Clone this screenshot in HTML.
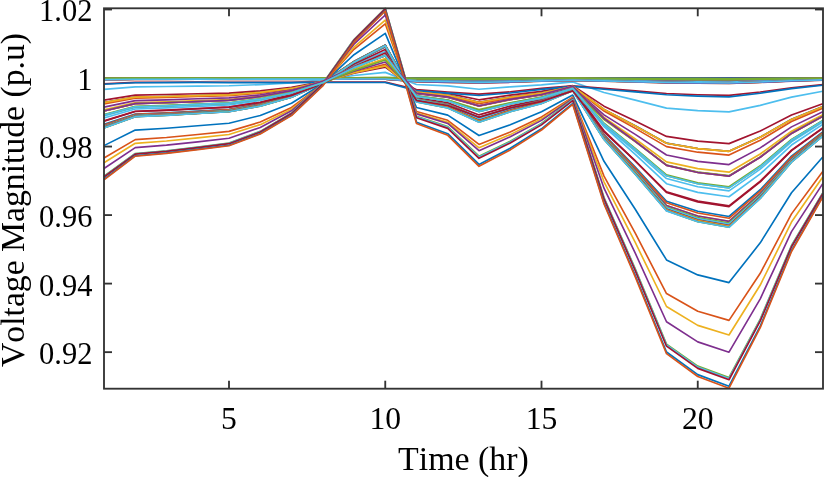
<!DOCTYPE html>
<html><head><meta charset="utf-8"><title>Voltage Magnitude</title>
<style>
html,body{margin:0;padding:0;background:#fff;}
body{width:824px;height:477px;overflow:hidden;}
svg{display:block;will-change:transform;}
text{font-kerning:none;font-family:"Liberation Serif",serif;font-size:31.6px;fill:#000;}
</style></head><body>
<svg width="824" height="477" viewBox="0 0 824 477">
<rect x="0" y="0" width="824" height="477" fill="#ffffff"/>
<g stroke="#333333" stroke-width="1.85" fill="none" stroke-linecap="butt">
<line x1="104.00" y1="9.50" x2="112.00" y2="9.50"/>
<line x1="823.00" y1="9.50" x2="815.00" y2="9.50"/>
<line x1="104.00" y1="78.00" x2="112.00" y2="78.00"/>
<line x1="823.00" y1="78.00" x2="815.00" y2="78.00"/>
<line x1="104.00" y1="146.55" x2="112.00" y2="146.55"/>
<line x1="823.00" y1="146.55" x2="815.00" y2="146.55"/>
<line x1="104.00" y1="215.10" x2="112.00" y2="215.10"/>
<line x1="823.00" y1="215.10" x2="815.00" y2="215.10"/>
<line x1="104.00" y1="283.60" x2="112.00" y2="283.60"/>
<line x1="823.00" y1="283.60" x2="815.00" y2="283.60"/>
<line x1="104.00" y1="352.15" x2="112.00" y2="352.15"/>
<line x1="823.00" y1="352.15" x2="815.00" y2="352.15"/>
<line x1="229.00" y1="388.70" x2="229.00" y2="380.70"/>
<line x1="229.00" y1="8.30" x2="229.00" y2="16.30"/>
<line x1="385.25" y1="388.70" x2="385.25" y2="380.70"/>
<line x1="385.25" y1="8.30" x2="385.25" y2="16.30"/>
<line x1="541.50" y1="388.70" x2="541.50" y2="380.70"/>
<line x1="541.50" y1="8.30" x2="541.50" y2="16.30"/>
<line x1="697.75" y1="388.70" x2="697.75" y2="380.70"/>
<line x1="697.75" y1="8.30" x2="697.75" y2="16.30"/>
</g>
<g fill="none" stroke-width="1.65" stroke-linejoin="round" stroke-linecap="butt">
<polyline points="104.00,78.00 135.25,78.00 166.50,78.00 197.75,78.00 229.00,78.00 260.25,78.00 291.50,78.00 322.75,78.00 354.00,78.00 385.25,78.00 416.50,78.00 447.75,78.00 479.00,78.00 510.25,78.00 541.50,78.00 572.75,78.00 604.00,78.00 635.25,78.00 666.50,78.00 697.75,78.00 729.00,78.00 760.25,78.00 791.50,78.00 822.75,78.00" stroke="#0072BD"/>
<polyline points="104.00,78.03 135.25,78.03 166.50,78.02 197.75,78.02 229.00,78.02 260.25,78.02 291.50,78.01 322.75,78.00 354.00,77.99 385.25,77.98 416.50,78.02 447.75,78.02 479.00,78.03 510.25,78.03 541.50,78.02 572.75,78.01 604.00,78.04 635.25,78.07 666.50,78.09 697.75,78.10 729.00,78.10 760.25,78.08 791.50,78.06 822.75,78.04" stroke="#D95319"/>
<polyline points="104.00,78.08 135.25,78.06 166.50,78.06 197.75,78.06 229.00,78.05 260.25,78.04 291.50,78.03 322.75,78.01 354.00,77.98 385.25,77.96 416.50,78.05 447.75,78.06 479.00,78.08 510.25,78.06 541.50,78.05 572.75,78.03 604.00,78.10 635.25,78.16 666.50,78.21 697.75,78.23 729.00,78.24 760.25,78.19 791.50,78.13 822.75,78.09" stroke="#EDB120"/>
<polyline points="104.00,78.18 135.25,78.14 166.50,78.13 197.75,78.13 229.00,78.12 260.25,78.10 291.50,78.07 322.75,78.02 354.00,77.95 385.25,77.91 416.50,78.10 447.75,78.13 479.00,78.18 510.25,78.14 541.50,78.11 572.75,78.06 604.00,78.23 635.25,78.35 666.50,78.49 697.75,78.53 729.00,78.55 760.25,78.44 791.50,78.31 822.75,78.21" stroke="#7E2F8E"/>
<polyline points="104.00,79.10 135.25,78.84 166.50,78.81 197.75,78.77 229.00,78.74 260.25,78.62 291.50,78.44 322.75,78.15 354.00,77.71 385.25,77.44 416.50,78.64 447.75,78.78 479.00,79.11 510.25,78.87 541.50,78.68 572.75,78.39 604.00,79.41 635.25,80.17 666.50,80.98 697.75,81.22 729.00,81.35 760.25,80.69 791.50,79.87 822.75,79.28" stroke="#77AC30"/>
<polyline points="104.00,89.39 135.25,86.84 166.50,86.54 197.75,86.13 229.00,85.79 260.25,84.63 291.50,82.81 322.75,79.88 354.00,75.51 385.25,72.36 416.50,84.45 447.75,85.92 479.00,89.25 510.25,86.83 541.50,84.91 572.75,81.91 604.00,92.53 635.25,100.12 666.50,108.13 697.75,110.59 729.00,111.85 760.25,105.33 791.50,97.12 822.75,91.24" stroke="#4DBEEE"/>
<polyline points="104.00,100.07 135.25,95.14 166.50,94.55 197.75,93.76 229.00,93.10 260.25,90.85 291.50,87.32 322.75,81.65 354.00,73.17 385.25,67.07 416.50,90.50 447.75,93.36 479.00,99.81 510.25,95.11 541.50,91.39 572.75,85.58 604.00,106.17 635.25,120.88 666.50,136.41 697.75,141.18 729.00,143.62 760.25,130.98 791.50,115.05 822.75,103.67" stroke="#A2142F"/>
<polyline points="104.00,102.62 135.25,97.12 166.50,96.47 197.75,95.58 229.00,94.84 260.25,92.33 291.50,88.40 322.75,82.08 354.00,72.61 385.25,65.81 416.50,91.95 447.75,95.13 479.00,102.33 510.25,97.09 541.50,92.93 572.75,86.46 604.00,109.43 635.25,125.83 666.50,143.16 697.75,148.48 729.00,151.20 760.25,137.10 791.50,119.34 822.75,106.63" stroke="#0072BD"/>
<polyline points="104.00,103.92 135.25,98.13 166.50,97.44 197.75,96.51 229.00,95.73 260.25,93.09 291.50,88.95 322.75,82.29 354.00,72.33 385.25,64.31 416.50,92.68 447.75,96.04 479.00,103.61 510.25,98.10 541.50,93.72 572.75,86.90 604.00,111.09 635.25,128.35 666.50,146.60 697.75,152.19 729.00,155.06 760.25,140.22 791.50,121.52 822.75,108.14" stroke="#D95319"/>
<polyline points="104.00,109.68 135.25,102.60 166.50,101.76 197.75,100.62 229.00,99.52 260.25,96.08 291.50,90.68 322.75,82.00 354.00,69.03 385.25,58.63 416.50,93.50 447.75,97.23 479.00,106.27 510.25,99.77 541.50,94.86 572.75,86.79 604.00,117.34 635.25,138.97 666.50,161.83 697.75,168.67 729.00,172.18 760.25,154.03 791.50,131.18 822.75,114.84" stroke="#EDB120"/>
<polyline points="104.00,110.95 135.25,103.59 166.50,102.72 197.75,101.53 229.00,100.26 260.25,96.50 291.50,90.60 322.75,81.12 354.00,66.95 385.25,55.63 416.50,92.87 447.75,96.54 479.00,105.84 510.25,99.22 541.50,94.42 572.75,86.17 604.00,118.41 635.25,141.17 666.50,165.21 697.75,172.32 729.00,175.97 760.25,157.09 791.50,133.32 822.75,116.32" stroke="#7E2F8E"/>
<polyline points="104.00,114.58 135.25,106.41 166.50,105.44 197.75,104.12 229.00,102.83 260.25,98.82 291.50,92.54 322.75,82.43 354.00,67.33 385.25,55.23 416.50,95.75 447.75,100.10 479.00,110.48 510.25,102.95 541.50,97.17 572.75,87.83 604.00,123.26 635.25,148.33 666.50,174.81 697.75,182.71 729.00,186.76 760.25,165.81 791.50,139.42 822.75,120.54" stroke="#77AC30"/>
<polyline points="104.00,117.92 135.25,108.99 166.50,107.93 197.75,106.49 229.00,104.99 260.25,100.48 291.50,93.41 322.75,82.04 354.00,65.06 385.25,51.53 416.50,95.81 447.75,100.31 479.00,111.52 510.25,103.46 541.50,97.49 572.75,87.46 604.00,126.73 635.25,154.45 666.50,183.72 697.75,192.34 729.00,196.77 760.25,173.88 791.50,145.05 822.75,124.43" stroke="#4DBEEE"/>
<polyline points="104.00,121.17 135.25,111.49 166.50,110.34 197.75,108.78 229.00,107.16 260.25,102.29 291.50,94.67 322.75,82.40 354.00,64.08 385.25,49.60 416.50,97.76 447.75,102.75 479.00,114.90 510.25,106.09 541.50,99.42 572.75,88.47 604.00,130.85 635.25,160.84 666.50,192.52 697.75,201.88 729.00,206.68 760.25,181.85 791.50,150.59 822.75,128.23" stroke="#A2142F"/>
<polyline points="104.00,124.39 135.25,113.96 166.50,112.72 197.75,111.04 229.00,109.27 260.25,103.99 291.50,95.71 322.75,82.40 354.00,62.53 385.25,46.95 416.50,98.88 447.75,104.21 479.00,117.23 510.25,107.78 541.50,100.63 572.75,88.88 604.00,134.61 635.25,167.01 666.50,201.24 697.75,211.31 729.00,216.48 760.25,189.75 791.50,156.07 822.75,131.99" stroke="#0072BD"/>
<polyline points="104.00,124.98 135.25,114.41 166.50,113.16 197.75,111.46 229.00,109.66 260.25,104.30 291.50,95.91 322.75,82.40 354.00,62.25 385.25,46.46 416.50,99.08 447.75,104.47 479.00,117.66 510.25,108.09 541.50,100.85 572.75,88.95 604.00,135.30 635.25,168.15 666.50,202.84 697.75,213.05 729.00,218.29 760.25,191.20 791.50,157.08 822.75,132.68" stroke="#D95319"/>
<polyline points="104.00,125.97 135.25,115.17 166.50,113.89 197.75,112.15 229.00,110.31 260.25,104.82 291.50,96.23 322.75,82.40 354.00,61.77 385.25,45.64 416.50,99.42 447.75,104.92 479.00,118.38 510.25,108.61 541.50,101.22 572.75,89.08 604.00,136.45 635.25,170.04 666.50,205.52 697.75,215.95 729.00,221.30 760.25,193.62 791.50,158.77 822.75,133.84" stroke="#EDB120"/>
<polyline points="104.00,125.98 135.25,115.18 166.50,113.90 197.75,112.16 229.00,110.32 260.25,104.83 291.50,96.23 322.75,82.40 354.00,61.77 385.25,45.63 416.50,99.43 447.75,104.93 479.00,118.39 510.25,108.61 541.50,101.23 572.75,89.08 604.00,136.47 635.25,170.06 666.50,205.55 697.75,215.98 729.00,221.33 760.25,193.65 791.50,158.79 822.75,133.85" stroke="#7E2F8E"/>
<polyline points="104.00,126.51 135.25,115.59 166.50,114.29 197.75,112.53 229.00,110.66 260.25,105.11 291.50,96.40 322.75,82.40 354.00,61.52 385.25,45.20 416.50,99.61 447.75,105.16 479.00,118.77 510.25,108.89 541.50,101.42 572.75,89.15 604.00,137.08 635.25,171.07 666.50,206.97 697.75,217.52 729.00,222.94 760.25,194.94 791.50,159.68 822.75,134.46" stroke="#77AC30"/>
<polyline points="104.00,126.84 135.25,115.84 166.50,114.54 197.75,112.77 229.00,110.88 260.25,105.28 291.50,96.51 322.75,82.40 354.00,61.35 385.25,44.92 416.50,99.73 447.75,105.32 479.00,119.01 510.25,109.06 541.50,101.55 572.75,89.19 604.00,137.47 635.25,171.72 666.50,207.88 697.75,218.51 729.00,223.96 760.25,195.77 791.50,160.26 822.75,134.86" stroke="#4DBEEE"/>
<polyline points="104.00,127.38 135.25,116.26 166.50,114.94 197.75,113.15 229.00,111.29 260.25,105.68 291.50,96.91 322.75,82.80 354.00,61.76 385.25,45.33 416.50,100.84 447.75,106.66 479.00,120.56 510.25,110.39 541.50,102.55 572.75,89.94 604.00,138.46 635.25,172.93 666.50,209.34 697.75,220.09 729.00,225.60 760.25,197.09 791.50,161.17 822.75,135.49" stroke="#A2142F"/>
<polyline points="104.00,127.39 135.25,116.27 166.50,114.95 197.75,113.15 229.00,111.29 260.25,105.69 291.50,96.92 322.75,82.81 354.00,61.76 385.25,45.34 416.50,100.87 447.75,106.69 479.00,120.60 510.25,110.42 541.50,102.57 572.75,89.95 604.00,138.48 635.25,172.95 666.50,209.37 697.75,220.12 729.00,225.64 760.25,197.11 791.50,161.19 822.75,135.50" stroke="#0072BD"/>
<polyline points="104.00,127.47 135.25,116.33 166.50,115.00 197.75,113.21 229.00,111.35 260.25,105.75 291.50,96.98 322.75,82.87 354.00,61.82 385.25,45.40 416.50,101.03 447.75,106.88 479.00,120.82 510.25,110.61 541.50,102.72 572.75,90.06 604.00,138.62 635.25,173.13 666.50,209.58 697.75,220.35 729.00,225.88 760.25,197.31 791.50,161.33 822.75,135.59" stroke="#D95319"/>
<polyline points="104.00,127.65 135.25,116.46 166.50,115.14 197.75,113.34 229.00,111.49 260.25,105.89 291.50,97.11 322.75,83.00 354.00,61.96 385.25,45.54 416.50,101.40 447.75,107.33 479.00,121.34 510.25,111.06 541.50,103.05 572.75,90.31 604.00,138.95 635.25,173.54 666.50,210.07 697.75,220.88 729.00,226.42 760.25,197.75 791.50,161.63 822.75,135.80" stroke="#EDB120"/>
<polyline points="104.00,127.84 135.25,116.61 166.50,115.28 197.75,113.47 229.00,111.63 260.25,106.03 291.50,97.25 322.75,83.14 354.00,62.10 385.25,45.68 416.50,101.79 447.75,107.81 479.00,121.89 510.25,111.53 541.50,103.40 572.75,90.57 604.00,139.30 635.25,173.97 666.50,210.59 697.75,221.44 729.00,227.00 760.25,198.21 791.50,161.96 822.75,136.02" stroke="#7E2F8E"/>
<polyline points="104.00,127.92 135.25,116.67 166.50,115.34 197.75,113.52 229.00,111.69 260.25,106.09 291.50,97.31 322.75,83.20 354.00,62.16 385.25,45.74 416.50,101.96 447.75,108.00 479.00,122.11 510.25,111.72 541.50,103.55 572.75,90.68 604.00,139.44 635.25,174.14 666.50,210.80 697.75,221.67 729.00,227.24 760.25,198.41 791.50,162.09 822.75,136.12" stroke="#77AC30"/>
<polyline points="104.00,127.94 135.25,116.69 166.50,115.35 197.75,113.54 229.00,111.71 260.25,106.10 291.50,97.33 322.75,83.22 354.00,62.17 385.25,45.76 416.50,102.00 447.75,108.06 479.00,122.18 510.25,111.78 541.50,103.59 572.75,90.71 604.00,139.48 635.25,174.19 666.50,210.86 697.75,221.73 729.00,227.31 760.25,198.46 791.50,162.13 822.75,136.14" stroke="#4DBEEE"/>
<polyline points="104.00,78.08 135.25,78.06 166.50,78.06 197.75,78.06 229.00,78.05 260.25,78.04 291.50,78.03 322.75,78.01 354.00,77.98 385.25,77.96 416.50,78.05 447.75,78.06 479.00,78.08 510.25,78.07 541.50,78.05 572.75,78.03 604.00,78.10 635.25,78.16 666.50,78.21 697.75,78.23 729.00,78.24 760.25,78.19 791.50,78.13 822.75,78.09" stroke="#A2142F"/>
<polyline points="104.00,78.17 135.25,78.13 166.50,78.12 197.75,78.12 229.00,78.12 260.25,78.11 291.50,78.10 322.75,78.08 354.00,78.05 385.25,78.03 416.50,78.23 447.75,78.28 479.00,78.34 510.25,78.29 541.50,78.22 572.75,78.15 604.00,78.26 635.25,78.36 666.50,78.46 697.75,78.49 729.00,78.51 760.25,78.41 791.50,78.29 822.75,78.20" stroke="#0072BD"/>
<polyline points="104.00,78.30 135.25,78.23 166.50,78.22 197.75,78.21 229.00,78.22 260.25,78.21 291.50,78.20 322.75,78.18 354.00,78.15 385.25,78.13 416.50,78.51 447.75,78.62 479.00,78.73 510.25,78.62 541.50,78.47 572.75,78.34 604.00,78.51 635.25,78.66 666.50,78.82 697.75,78.89 729.00,78.92 760.25,78.74 791.50,78.52 822.75,78.35" stroke="#D95319"/>
<polyline points="104.00,78.33 135.25,78.25 166.50,78.24 197.75,78.23 229.00,78.24 260.25,78.23 291.50,78.22 322.75,78.19 354.00,78.16 385.25,78.15 416.50,78.56 447.75,78.67 479.00,78.79 510.25,78.68 541.50,78.51 572.75,78.37 604.00,78.55 635.25,78.71 666.50,78.88 697.75,78.95 729.00,78.99 760.25,78.80 791.50,78.55 822.75,78.38" stroke="#EDB120"/>
<polyline points="104.00,78.44 135.25,78.34 166.50,78.32 197.75,78.31 229.00,78.32 260.25,78.31 291.50,78.30 322.75,78.28 354.00,78.25 385.25,78.23 416.50,78.79 447.75,78.95 479.00,79.11 510.25,78.95 541.50,78.72 572.75,78.52 604.00,78.76 635.25,78.96 666.50,79.18 697.75,79.28 729.00,79.33 760.25,79.07 791.50,78.75 822.75,78.51" stroke="#7E2F8E"/>
<polyline points="104.00,78.73 135.25,78.56 166.50,78.54 197.75,78.51 229.00,78.54 260.25,78.53 291.50,78.52 322.75,78.50 354.00,78.46 385.25,78.45 416.50,79.39 447.75,79.68 479.00,79.95 510.25,79.67 541.50,79.26 572.75,78.93 604.00,79.29 635.25,79.62 666.50,79.97 697.75,80.14 729.00,80.22 760.25,79.79 791.50,79.24 822.75,78.85" stroke="#77AC30"/>
<polyline points="104.00,79.11 135.25,78.85 166.50,78.82 197.75,78.78 229.00,78.82 260.25,78.81 291.50,78.80 322.75,78.78 354.00,78.75 385.25,78.74 416.50,80.18 447.75,80.63 479.00,81.05 510.25,80.61 541.50,79.97 572.75,79.46 604.00,79.99 635.25,80.48 666.50,81.01 697.75,81.25 729.00,81.38 760.25,80.72 791.50,79.89 822.75,79.30" stroke="#4DBEEE"/>
<polyline points="104.00,79.18 135.25,78.90 166.50,78.87 197.75,78.83 229.00,78.87 260.25,78.86 291.50,78.85 322.75,78.83 354.00,78.80 385.25,78.79 416.50,80.32 447.75,80.80 479.00,81.24 510.25,80.78 541.50,80.09 572.75,79.55 604.00,80.11 635.25,80.63 666.50,81.19 697.75,81.45 729.00,81.59 760.25,80.89 791.50,80.01 822.75,79.38" stroke="#A2142F"/>
<polyline points="104.00,78.09 135.25,78.07 166.50,78.07 197.75,78.06 229.00,78.06 260.25,78.05 291.50,78.04 322.75,78.02 354.00,77.99 385.25,77.97 416.50,78.07 447.75,78.08 479.00,78.11 510.25,78.09 541.50,78.07 572.75,78.04 604.00,78.12 635.25,78.18 666.50,78.24 697.75,78.26 729.00,78.27 760.25,78.22 791.50,78.15 822.75,78.10" stroke="#0072BD"/>
<polyline points="104.00,78.28 135.25,78.22 166.50,78.21 197.75,78.20 229.00,78.20 260.25,78.20 291.50,78.18 322.75,78.16 354.00,78.13 385.25,78.11 416.50,78.46 447.75,78.56 479.00,78.66 510.25,78.56 541.50,78.42 572.75,78.31 604.00,78.47 635.25,78.61 666.50,78.76 697.75,78.82 729.00,78.85 760.25,78.69 791.50,78.48 822.75,78.33" stroke="#D95319"/>
<polyline points="104.00,78.46 135.25,78.35 166.50,78.34 197.75,78.32 229.00,78.34 260.25,78.33 291.50,78.32 322.75,78.30 354.00,78.26 385.25,78.25 416.50,78.84 447.75,79.01 479.00,79.18 510.25,79.01 541.50,78.76 572.75,78.56 604.00,78.80 635.25,79.01 666.50,79.24 697.75,79.35 729.00,79.40 760.25,79.13 791.50,78.78 822.75,78.54" stroke="#EDB120"/>
<polyline points="104.00,78.52 135.25,78.40 166.50,78.38 197.75,78.36 229.00,78.38 260.25,78.37 291.50,78.36 322.75,78.34 354.00,78.31 385.25,78.29 416.50,78.95 447.75,79.15 479.00,79.34 510.25,79.15 541.50,78.86 572.75,78.63 604.00,78.90 635.25,79.14 666.50,79.40 697.75,79.51 729.00,79.57 760.25,79.26 791.50,78.88 822.75,78.60" stroke="#7E2F8E"/>
<polyline points="104.00,78.52 135.25,78.40 166.50,78.38 197.75,78.36 229.00,78.38 260.25,78.37 291.50,78.36 322.75,78.34 354.00,78.31 385.25,78.29 416.50,78.95 447.75,79.15 479.00,79.34 510.25,79.15 541.50,78.86 572.75,78.63 604.00,78.90 635.25,79.14 666.50,79.40 697.75,79.51 729.00,79.57 760.25,79.26 791.50,78.88 822.75,78.60" stroke="#77AC30"/>
<polyline points="104.00,79.30 135.25,79.00 166.50,78.96 197.75,78.91 229.00,78.96 260.25,78.96 291.50,78.94 322.75,78.92 354.00,78.89 385.25,78.89 416.50,80.58 447.75,81.11 479.00,81.60 510.25,81.08 541.50,80.32 572.75,79.72 604.00,80.34 635.25,80.91 666.50,81.52 697.75,81.81 729.00,81.96 760.25,81.19 791.50,80.22 822.75,79.52" stroke="#4DBEEE"/>
<polyline points="104.00,79.63 135.25,79.25 166.50,79.20 197.75,79.14 229.00,79.21 260.25,79.20 291.50,79.19 322.75,79.17 354.00,79.13 385.25,79.14 416.50,81.25 447.75,81.92 479.00,82.54 510.25,81.89 541.50,80.92 572.75,80.17 604.00,80.93 635.25,81.64 666.50,82.40 697.75,82.77 729.00,82.95 760.25,81.99 791.50,80.77 822.75,79.90" stroke="#A2142F"/>
<polyline points="104.00,79.67 135.25,79.28 166.50,79.24 197.75,79.17 229.00,79.24 260.25,79.23 291.50,79.22 322.75,79.20 354.00,79.17 385.25,79.17 416.50,81.34 447.75,82.03 479.00,82.66 510.25,82.00 541.50,81.01 572.75,80.23 604.00,81.01 635.25,81.74 666.50,82.52 697.75,82.90 729.00,83.09 760.25,82.10 791.50,80.85 822.75,79.95" stroke="#0072BD"/>
<polyline points="104.00,79.68 135.25,79.29 166.50,79.25 197.75,79.18 229.00,79.25 260.25,79.24 291.50,79.23 322.75,79.21 354.00,79.18 385.25,79.18 416.50,81.37 447.75,82.06 479.00,82.70 510.25,82.02 541.50,81.03 572.75,80.25 604.00,81.03 635.25,81.77 666.50,82.55 697.75,82.93 729.00,83.12 760.25,82.12 791.50,80.87 822.75,79.97" stroke="#D95319"/>
<polyline points="104.00,79.78 135.25,79.37 166.50,79.32 197.75,79.25 229.00,79.32 260.25,79.32 291.50,79.30 322.75,79.28 354.00,79.25 385.25,79.26 416.50,81.58 447.75,82.31 479.00,82.99 510.25,82.27 541.50,81.22 572.75,80.39 604.00,81.22 635.25,82.00 666.50,82.83 697.75,83.23 729.00,83.43 760.25,82.37 791.50,81.04 822.75,80.08" stroke="#EDB120"/>
<polyline points="104.00,79.79 135.25,79.38 166.50,79.33 197.75,79.26 229.00,79.33 260.25,79.32 291.50,79.31 322.75,79.29 354.00,79.26 385.25,79.26 416.50,81.60 447.75,82.34 479.00,83.02 510.25,82.30 541.50,81.24 572.75,80.41 604.00,81.24 635.25,82.02 666.50,82.86 697.75,83.26 729.00,83.47 760.25,82.40 791.50,81.06 822.75,80.10" stroke="#7E2F8E"/>
<polyline points="104.00,78.24 135.25,78.18 166.50,78.17 197.75,78.17 229.00,78.16 260.25,78.14 291.50,78.11 322.75,78.07 354.00,77.99 385.25,77.95 416.50,78.22 447.75,78.27 479.00,78.35 510.25,78.29 541.50,78.22 572.75,78.14 604.00,78.33 635.25,78.48 666.50,78.64 697.75,78.69 729.00,78.72 760.25,78.58 791.50,78.40 822.75,78.28" stroke="#77AC30"/>
<polyline points="104.00,79.64 135.25,79.26 166.50,79.21 197.75,79.15 229.00,79.21 260.25,79.19 291.50,79.16 322.75,79.11 354.00,79.04 385.25,79.01 416.50,81.12 447.75,81.77 479.00,82.38 510.25,81.75 541.50,80.82 572.75,80.08 604.00,80.90 635.25,81.64 666.50,82.43 697.75,82.80 729.00,82.99 760.25,82.01 791.50,80.79 822.75,79.91" stroke="#4DBEEE"/>
<polyline points="104.00,83.71 135.25,82.39 166.50,82.23 197.75,82.02 229.00,82.25 260.25,82.23 291.50,82.20 322.75,82.15 354.00,82.08 385.25,82.12 416.50,89.56 447.75,91.95 479.00,94.11 510.25,91.80 541.50,88.39 572.75,85.73 604.00,88.34 635.25,90.83 666.50,93.46 697.75,94.74 729.00,95.40 760.25,92.01 791.50,87.73 822.75,84.67" stroke="#A2142F"/>
<polyline points="104.00,84.20 135.25,82.76 166.50,82.59 197.75,82.36 229.00,82.62 260.25,82.60 291.50,82.57 322.75,82.52 354.00,82.45 385.25,82.49 416.50,90.58 447.75,93.18 479.00,95.53 510.25,93.02 541.50,89.31 572.75,86.41 604.00,89.24 635.25,91.94 666.50,94.80 697.75,96.19 729.00,96.90 760.25,93.21 791.50,88.57 822.75,85.25" stroke="#0072BD"/>
<polyline points="104.00,102.66 135.25,97.15 166.50,96.49 197.75,95.61 229.00,94.87 260.25,92.36 291.50,88.43 322.75,82.10 354.00,72.64 385.25,65.83 416.50,92.02 447.75,95.22 479.00,102.42 510.25,97.17 541.50,93.00 572.75,86.50 604.00,109.49 635.25,125.91 666.50,143.25 697.75,148.57 729.00,151.31 760.25,137.18 791.50,119.39 822.75,106.67" stroke="#D95319"/>
<polyline points="104.00,102.67 135.25,97.16 166.50,96.50 197.75,95.61 229.00,94.88 260.25,92.37 291.50,88.44 322.75,82.11 354.00,72.65 385.25,65.84 416.50,92.04 447.75,95.25 479.00,102.45 510.25,97.20 541.50,93.02 572.75,86.52 604.00,109.51 635.25,125.93 666.50,143.28 697.75,148.61 729.00,151.34 760.25,137.21 791.50,119.41 822.75,106.69" stroke="#EDB120"/>
<polyline points="104.00,107.11 135.25,100.61 166.50,99.84 197.75,98.79 229.00,97.88 260.25,94.86 291.50,90.12 322.75,82.51 354.00,71.11 385.25,61.96 416.50,93.73 447.75,97.35 479.00,105.81 510.25,99.72 541.50,95.03 572.75,87.47 604.00,114.89 635.25,134.42 666.50,155.05 697.75,161.33 729.00,164.56 760.25,147.88 791.50,126.88 822.75,111.86" stroke="#7E2F8E"/>
<polyline points="104.00,110.85 135.25,103.51 166.50,102.64 197.75,101.46 229.00,100.44 260.25,97.04 291.50,91.72 322.75,83.17 354.00,70.37 385.25,60.08 416.50,95.95 447.75,100.07 479.00,109.63 510.25,102.73 541.50,97.38 572.75,88.83 604.00,119.69 635.25,141.69 666.50,164.93 697.75,172.02 729.00,175.66 760.25,156.85 791.50,133.15 822.75,116.20" stroke="#77AC30"/>
<polyline points="104.00,115.98 135.25,107.50 166.50,106.49 197.75,105.12 229.00,103.84 260.25,99.75 291.50,93.34 322.75,83.04 354.00,67.64 385.25,55.29 416.50,96.49 447.75,100.81 479.00,111.74 510.25,104.05 541.50,98.53 572.75,88.95 604.00,125.39 635.25,151.23 666.50,178.52 697.75,186.72 729.00,190.93 760.25,169.17 791.50,141.77 822.75,122.17" stroke="#4DBEEE"/>
<polyline points="104.00,120.90 135.25,111.28 166.50,110.14 197.75,108.59 229.00,107.16 260.25,102.57 291.50,95.39 322.75,83.83 354.00,66.56 385.25,53.01 416.50,100.51 447.75,105.50 479.00,117.30 510.25,108.04 541.50,101.38 572.75,90.85 604.00,131.80 635.25,160.97 666.50,191.79 697.75,201.09 729.00,205.86 760.25,181.19 791.50,150.13 822.75,127.91" stroke="#A2142F"/>
<polyline points="104.00,145.62 135.25,130.11 166.50,128.27 197.75,125.77 229.00,123.21 260.25,115.44 291.50,103.29 322.75,83.73 354.00,54.71 385.25,33.32 416.50,107.45 447.75,115.13 479.00,135.55 510.25,124.82 541.50,111.84 572.75,95.03 604.00,161.32 635.25,209.28 666.50,259.93 697.75,274.92 729.00,282.61 760.25,242.84 791.50,192.75 822.75,156.93" stroke="#0072BD"/>
<polyline points="104.00,158.02 135.25,139.63 166.50,137.45 197.75,134.49 229.00,131.38 260.25,122.08 291.50,107.51 322.75,84.08 354.00,49.32 385.25,23.83 416.50,111.47 447.75,120.29 479.00,144.42 510.25,131.93 541.50,116.91 572.75,97.18 604.00,176.12 635.25,233.21 666.50,293.51 697.75,311.28 729.00,320.39 760.25,273.26 791.50,213.88 822.75,171.42" stroke="#D95319"/>
<polyline points="104.00,162.82 135.25,143.32 166.50,141.00 197.75,137.86 229.00,134.55 260.25,124.64 291.50,109.14 322.75,84.19 354.00,47.20 385.25,20.11 416.50,112.98 447.75,122.23 479.00,147.79 510.25,134.62 541.50,118.83 572.75,97.99 604.00,181.82 635.25,242.46 666.50,306.51 697.75,325.35 729.00,335.01 760.25,285.02 791.50,222.06 822.75,177.03" stroke="#EDB120"/>
<polyline points="104.00,168.44 135.25,147.64 166.50,145.17 197.75,141.82 229.00,138.21 260.25,127.54 291.50,110.84 322.75,83.97 354.00,44.13 385.25,15.00 416.50,113.88 447.75,123.48 479.00,150.68 510.25,136.85 541.50,120.37 572.75,98.33 604.00,188.20 635.25,253.15 666.50,321.75 697.75,341.85 729.00,352.16 760.25,298.83 791.50,231.65 822.75,183.61" stroke="#7E2F8E"/>
<polyline points="104.00,176.27 135.25,153.49 166.50,150.78 197.75,147.12 229.00,143.11 260.25,131.36 291.50,112.96 322.75,83.36 354.00,39.56 385.25,8.31 416.50,116.18 447.75,126.48 479.00,156.13 510.25,141.18 541.50,123.44 572.75,99.50 604.00,197.54 635.25,268.84 666.50,344.14 697.75,366.15 729.00,377.44 760.25,319.04 791.50,245.48 822.75,192.87" stroke="#77AC30"/>
<polyline points="104.00,176.59 135.25,153.74 166.50,151.03 197.75,147.35 229.00,143.36 260.25,131.61 291.50,113.21 322.75,83.61 354.00,39.81 385.25,8.56 416.50,116.86 447.75,127.29 479.00,157.07 510.25,141.99 541.50,124.04 572.75,99.95 604.00,198.14 635.25,269.57 666.50,345.02 697.75,367.10 729.00,378.43 760.25,319.84 791.50,246.04 822.75,193.25" stroke="#4DBEEE"/>
<polyline points="104.00,177.03 135.25,154.07 166.50,151.35 197.75,147.65 229.00,143.68 260.25,131.93 291.50,113.53 322.75,83.93 354.00,40.13 385.25,8.89 416.50,117.76 447.75,128.38 479.00,158.33 510.25,143.07 541.50,124.85 572.75,100.56 604.00,198.94 635.25,270.56 666.50,346.20 697.75,368.38 729.00,379.76 760.25,320.91 791.50,246.78 822.75,193.76" stroke="#A2142F"/>
<polyline points="104.00,179.16 135.25,155.71 166.50,152.93 197.75,149.15 229.00,145.27 260.25,133.52 291.50,115.12 322.75,85.52 354.00,41.72 385.25,10.51 416.50,122.18 447.75,133.70 479.00,164.46 510.25,148.32 541.50,128.81 572.75,103.51 604.00,202.83 635.25,275.36 666.50,351.97 697.75,374.63 729.00,386.25 760.25,326.13 791.50,250.41 822.75,196.25" stroke="#0072BD"/>
<polyline points="104.00,179.80 135.25,156.20 166.50,153.40 197.75,149.60 229.00,145.75 260.25,134.00 291.50,115.60 322.75,86.00 354.00,42.20 385.25,11.00 416.50,123.50 447.75,135.30 479.00,166.30 510.25,149.90 541.50,130.00 572.75,104.40 604.00,204.00 635.25,276.80 666.50,353.70 697.75,376.50 729.00,388.20 760.25,327.70 791.50,251.50 822.75,197.00" stroke="#D95319"/>
<polyline points="104.00,111.01 135.25,103.63 166.50,102.76 197.75,101.57 229.00,100.30 260.25,96.54 291.50,90.65 322.75,81.16 354.00,66.99 385.25,55.67 416.50,92.98 447.75,96.68 479.00,106.01 510.25,99.36 541.50,94.52 572.75,86.25 604.00,118.52 635.25,141.30 666.50,165.36 697.75,172.48 729.00,176.14 760.25,157.23 791.50,133.42 822.75,116.39" stroke="#EDB120"/>
<polyline points="104.00,111.02 135.25,103.64 166.50,102.77 197.75,101.58 229.00,100.31 260.25,96.55 291.50,90.65 322.75,81.17 354.00,67.00 385.25,55.68 416.50,93.01 447.75,96.70 479.00,106.04 510.25,99.39 541.50,94.55 572.75,86.26 604.00,118.54 635.25,141.32 666.50,165.39 697.75,172.52 729.00,176.17 760.25,157.26 791.50,133.44 822.75,116.40" stroke="#7E2F8E"/>
<polyline points="104.00,114.96 135.25,106.70 166.50,105.72 197.75,104.39 229.00,103.12 260.25,99.11 291.50,92.83 322.75,82.72 354.00,67.62 385.25,55.51 416.50,96.52 447.75,101.02 479.00,111.54 510.25,103.86 541.50,97.86 572.75,88.34 604.00,123.95 635.25,149.17 666.50,175.82 697.75,183.80 729.00,187.89 760.25,166.72 791.50,140.05 822.75,120.98" stroke="#77AC30"/>
<polyline points="104.00,114.96 135.25,106.70 166.50,105.72 197.75,104.39 229.00,103.12 260.25,99.11 291.50,92.83 322.75,82.72 354.00,67.62 385.25,55.51 416.50,96.52 447.75,101.02 479.00,111.54 510.25,103.86 541.50,97.86 572.75,88.34 604.00,123.95 635.25,149.17 666.50,175.82 697.75,183.80 729.00,187.89 760.25,166.72 791.50,140.05 822.75,120.98" stroke="#4DBEEE"/>
</g>
<rect x="104.0" y="8.3" width="719.0" height="380.4" fill="none" stroke="#333333" stroke-width="1.85"/>
<g>
<text transform="translate(92.4,21.40) scale(1,1.06)" text-anchor="end" style="font-size:30.5px">1.02</text>
<text transform="translate(92.4,89.90) scale(1,1.06)" text-anchor="end" style="font-size:30.5px">1</text>
<text transform="translate(92.4,158.45) scale(1,1.06)" text-anchor="end" style="font-size:30.5px">0.98</text>
<text transform="translate(92.4,227.00) scale(1,1.06)" text-anchor="end" style="font-size:30.5px">0.96</text>
<text transform="translate(92.4,295.50) scale(1,1.06)" text-anchor="end" style="font-size:30.5px">0.94</text>
<text transform="translate(92.4,364.05) scale(1,1.06)" text-anchor="end" style="font-size:30.5px">0.92</text>
<text x="229.00" y="429.2" text-anchor="middle">5</text>
<text x="385.25" y="429.2" text-anchor="middle">10</text>
<text x="541.50" y="429.2" text-anchor="middle">15</text>
<text x="697.75" y="429.2" text-anchor="middle">20</text>

<text x="463.5" y="470" text-anchor="middle" style="font-size:33.9px">Time (hr)</text>
<text transform="translate(23.8,200.0) rotate(-90)" text-anchor="middle" style="font-size:33.7px">Voltage Magnitude (p.u)</text>
</g>
</svg>
</body></html>
